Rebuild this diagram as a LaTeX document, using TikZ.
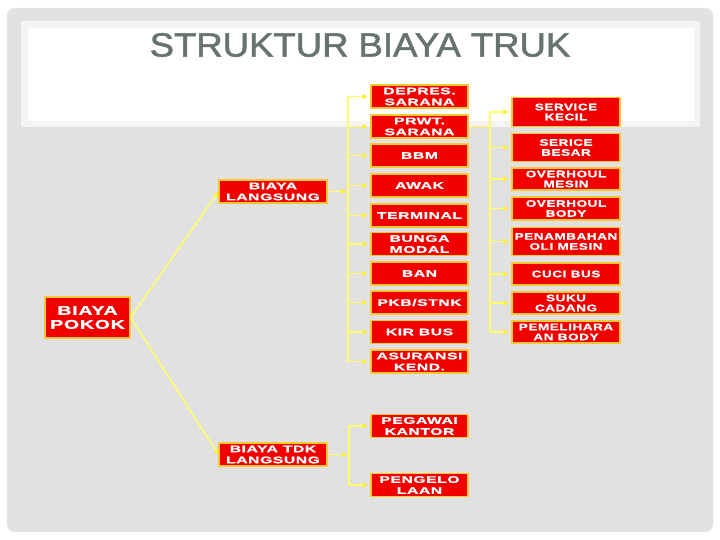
\documentclass[tikz,border=0pt]{standalone}
\usepackage{fontspec}
\setmainfont{Liberation Sans}
\newfontfamily\titlefont{Liberation Sans}[FakeStretch=1.09,FakeBold=1.5]
\newfontfamily\midfont{Liberation Sans}[FakeStretch=1.65,LetterSpace=6,FakeBold=1.2]
\newfontfamily\rightfont{Liberation Sans}[FakeStretch=1.42,LetterSpace=6,FakeBold=1.2]
\newfontfamily\rootfont{Liberation Sans}[FakeStretch=1.55,LetterSpace=6,FakeBold=1.2]
\usetikzlibrary{arrows.meta}
\definecolor{panelgray}{HTML}{E1E1E1}
\definecolor{bandrim}{HTML}{F4F4F4}
\definecolor{titlecol}{HTML}{66736E}
\definecolor{boxred}{HTML}{F20000}
\definecolor{boxrim}{HTML}{FFC833}
\definecolor{linkyel}{HTML}{FFFF66}
\definecolor{tipyel}{HTML}{FFEE33}
\tikzset{
  costbox/.style={rectangle, fill=boxred, draw=boxrim, line width=1.2pt,
    text=white, align=center, inner sep=0pt,
    font=\midfont\bfseries\fontsize{9.5}{11}\selectfont},
  midbox/.style={costbox, minimum width=97pt, minimum height=23pt},
  rightbox/.style={costbox, minimum width=108pt,
    font=\rightfont\bfseries\fontsize{9.5}{10}\selectfont},
  conn/.style={draw=linkyel, line width=1.5pt},
  arr/.style={conn, -{Triangle[length=5pt,width=5pt,color=tipyel]}, shorten >=3pt}
}
\begin{document}
\begin{tikzpicture}[x=1pt,y=-1pt]
\useasboundingbox (0,0) rectangle (720,540);
\fill[white] (0,0) rectangle (720,540);
% panel and title band
\fill[panelgray, rounded corners=8pt] (7,8) rectangle (713,532);
\fill[bandrim] (21,21) rectangle (700,127);
\fill[white] (28,28) rectangle (694,121);
\node[text=titlecol, font=\titlefont\fontsize{33.5}{34}\selectfont, inner sep=0pt] (title) at (360,45) {STRUKTUR BIAYA TRUK};
% main boxes
\node[costbox, minimum width=85pt, minimum height=41pt, font=\rootfont\bfseries\fontsize{12.6}{14}\selectfont] (pokok) at (87.5,317.5) {BIAYA\\POKOK};
\node[costbox, minimum width=108pt, minimum height=23pt] (lang) at (273,191.5) {BIAYA\\LANGSUNG};
\node[costbox, minimum width=108pt, minimum height=23pt] (tdk) at (273,454.5) {BIAYA TDK\\LANGSUNG};
% middle column
\node[midbox] (depres) at (419.5,96.5) {DEPRES.\\SARANA};
\node[midbox] (prwt) at (419.5,126.5) {PRWT.\\SARANA};
\node[midbox] (bbm) at (419.5,155.5) {BBM};
\node[midbox] (awak) at (419.5,185.5) {AWAK};
\node[midbox] (terminal) at (419.5,215.5) {TERMINAL};
\node[midbox] (bunga) at (419.5,244) {BUNGA\\MODAL};
\node[midbox] (ban) at (419.5,273.5) {BAN};
\node[midbox] (pkb) at (419.5,302.5) {PKB/STNK};
\node[midbox] (kir) at (419.5,332) {KIR BUS};
\node[midbox] (asuransi) at (419.5,361.5) {ASURANSI\\KEND.};
\node[midbox] (pegawai) at (419.5,426) {PEGAWAI\\KANTOR};
\node[midbox] (pengelo) at (419.5,485) {PENGELO\\LAAN};
% right column
\node[rightbox, minimum height=29pt] (svck) at (566,112) {SERVICE\\KECIL};
\node[rightbox, minimum height=28pt] (svcb) at (566,147.5) {SERICE\\BESAR};
\node[rightbox, minimum height=22pt] (ohm) at (566,179) {OVERHOUL\\MESIN};
\node[rightbox, minimum height=23pt] (ohb) at (566,208.5) {OVERHOUL\\BODY};
\node[rightbox, minimum height=28pt] (oli) at (566,241.5) {PENAMBAHAN\\OLI MESIN};
\node[rightbox, minimum height=22pt] (cuci) at (566,274) {CUCI BUS};
\node[rightbox, minimum height=22pt] (suku) at (566,303) {SUKU\\CADANG};
\node[rightbox, minimum height=22pt] (pemel) at (566,332) {PEMELIHARA\\AN BODY};
% bus coordinates
\coordinate (busL) at (348,191.5);
\coordinate (busR) at (490,126.5);
\coordinate (busT) at (349,454.5);
% connectors from root
\draw[arr, shorten >=0pt] (pokok.east) -- (lang.west);
\draw[arr, shorten >=0pt] (pokok.east) -- (tdk.west);
% langsung bus
\draw[arr, shorten >=2pt] (lang.east) -- (busL);
\draw[conn] (busL |- depres.west) -- (busL |- asuransi.west);
\foreach \n in {depres,prwt,bbm,awak,terminal,bunga,ban,pkb,kir,asuransi}
  \draw[arr] (busL |- \n.west) -- (\n.west);
% prwt bus
\draw[conn] (prwt.east) -- (busR);
\draw[conn] (busR |- svck.west) -- (busR |- pemel.west);
\foreach \n in {svck,svcb,ohm,ohb,oli,cuci,suku,pemel}
  \draw[arr] (busR |- \n.west) -- (\n.west);
% tdk bus
\draw[arr, shorten >=2pt] (tdk.east) -- (busT);
\draw[conn] (busT |- pegawai.west) -- (busT |- pengelo.west);
\foreach \n in {pegawai,pengelo}
  \draw[arr] (busT |- \n.west) -- (\n.west);
\end{tikzpicture}
\end{document}
